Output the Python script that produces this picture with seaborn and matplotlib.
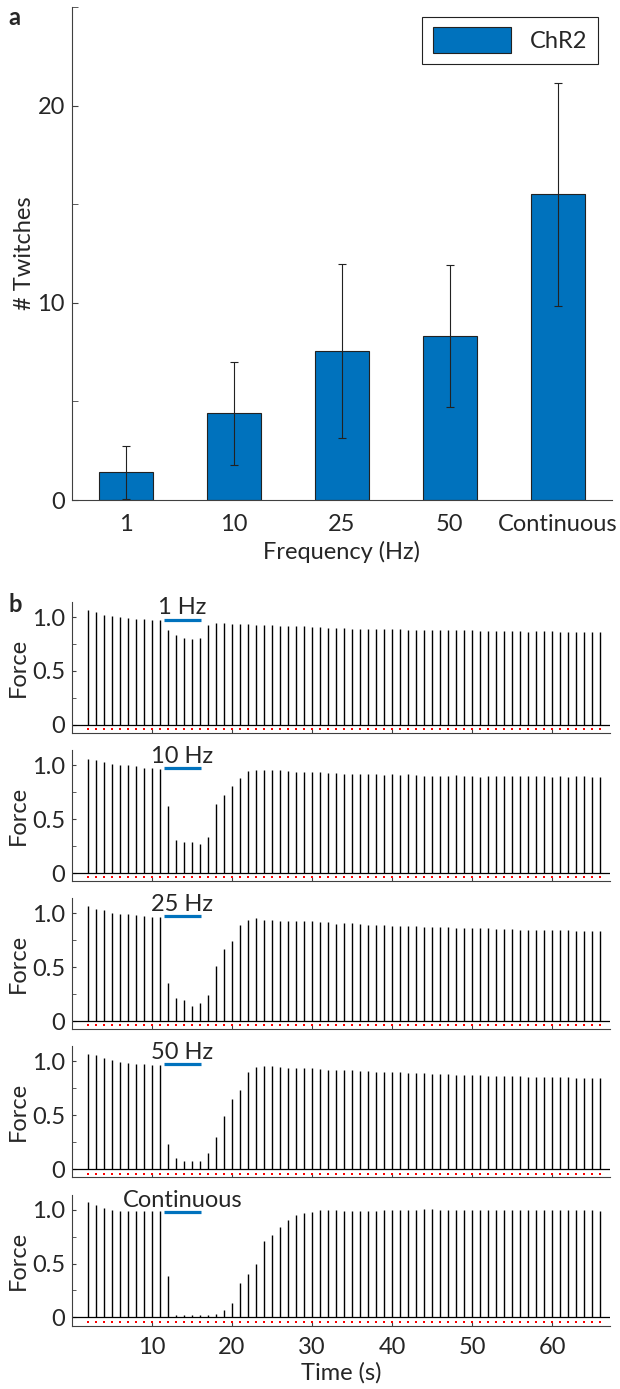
import numpy as np
import pandas as pd
import seaborn as sns
import matplotlib.pyplot as plt
from matplotlib.ticker import MultipleLocator

sns.set_style('ticks')
plt.rcParams['font.family'] = ['Lato', 'DejaVu Sans']
plt.rcParams['font.size'] = 17

# panel a: twitch counts per stimulation frequency
frequencies = ['1', '10', '25', '50', 'Continuous']
twitch_mean = [1.4, 4.4, 7.55, 8.3, 15.5]
twitch_sd = [1.35, 2.6, 4.4, 3.6, 5.65]

# panel b: peak force of each twitch (1 Hz test pulses, t = 2..66 s)
stim_labels = ['1 Hz', '10 Hz', '25 Hz', '50 Hz', 'Continuous']
twitch_times = list(range(2, 67))
light_on, light_off = 11.5, 16.1

force_1hz = [1.062, 1.043, 1.022, 1.012, 1.0, 0.988, 0.985, 0.981, 0.972, 0.975,
             0.882, 0.836, 0.805, 0.796, 0.805,
             0.923, 0.944, 0.941, 0.932, 0.932, 0.932, 0.929, 0.923, 0.923, 0.920, 0.920, 0.916,
             0.913, 0.904, 0.904, 0.901, 0.898, 0.898, 0.892, 0.892, 0.892, 0.889,
             0.889, 0.885, 0.885, 0.882, 0.879, 0.879, 0.876, 0.876, 0.876, 0.876,
             0.876, 0.876, 0.873, 0.873, 0.867, 0.867, 0.867, 0.867, 0.864, 0.867,
             0.867, 0.867, 0.864, 0.864, 0.864, 0.864, 0.864, 0.861]
force_10hz = [1.059, 1.044, 1.028, 1.009, 1.0, 1.0, 0.991, 0.978, 0.978, 0.969,
              0.623, 0.305, 0.290, 0.290, 0.268,
              0.336, 0.642, 0.726, 0.81, 0.882, 0.944, 0.953, 0.953, 0.953, 0.953,
              0.944, 0.941, 0.941, 0.935, 0.935, 0.928,
              0.928, 0.922, 0.922, 0.919, 0.919, 0.916, 0.913, 0.916, 0.913, 0.919,
              0.910, 0.903, 0.903, 0.9, 0.903, 0.907, 0.897, 0.897, 0.894, 0.903,
              0.9, 0.897, 0.903, 0.9, 0.897, 0.9, 0.9, 0.894, 0.897, 0.894,
              0.897, 0.897, 0.894, 0.891]
force_25hz = [1.069, 1.044, 1.028, 1.006, 0.997, 0.991, 0.981, 0.975, 0.969, 0.965,
              0.352, 0.214, 0.195, 0.142, 0.170,
              0.242, 0.509, 0.667, 0.745, 0.896, 0.937, 0.953, 0.943, 0.937, 0.931,
              0.931, 0.928, 0.928, 0.925, 0.921, 0.918,
              0.899, 0.906, 0.906, 0.899, 0.896, 0.893, 0.890, 0.887, 0.884, 0.884,
              0.881, 0.877, 0.874, 0.874, 0.871, 0.868, 0.868, 0.865, 0.865, 0.862,
              0.858, 0.858, 0.855, 0.849, 0.849, 0.846, 0.846, 0.846, 0.843, 0.843,
              0.840, 0.840, 0.836, 0.836]
force_50hz = [1.072, 1.056, 1.034, 1.013, 0.994, 0.988, 0.981, 0.975, 0.972, 0.969,
              0.237, 0.103, 0.078, 0.078, 0.078,
              0.15, 0.30, 0.49, 0.65, 0.734, 0.90, 0.947, 0.956, 0.956, 0.947,
              0.944, 0.941, 0.938, 0.938, 0.931, 0.925,
              0.922, 0.922, 0.919, 0.916, 0.913, 0.906, 0.903, 0.903, 0.9, 0.897,
              0.894, 0.891, 0.888, 0.884, 0.881, 0.878, 0.878, 0.875, 0.872, 0.869,
              0.866, 0.866, 0.863, 0.863, 0.859, 0.859, 0.856, 0.853, 0.853, 0.853,
              0.85, 0.85, 0.847, 0.847]
force_cont = [1.072, 1.041, 1.016, 0.997, 0.988, 0.988, 0.988, 0.988, 0.988, 0.988,
              0.384, 0.025, 0.02, 0.02, 0.02,
              0.025, 0.03, 0.072, 0.134, 0.322, 0.406, 0.494, 0.706, 0.769, 0.838,
              0.90, 0.947,
              0.97, 0.98, 0.994, 0.994, 0.994, 0.99, 0.988, 0.988, 0.99, 0.99,
              1.0, 1.0, 1.0, 1.0, 1.0, 1.003, 1.003, 1.0, 1.0, 1.0,
              1.0, 1.0, 1.0, 1.0, 1.0, 1.0, 1.0, 1.0, 1.0, 1.0,
              1.0, 1.0, 1.0, 1.0, 0.994, 0.994, 0.994, 0.99]
force_traces = [force_1hz, force_10hz, force_25hz, force_50hz, force_cont]

bar_blue = '#0072BD'
spine_col = '#404040'

fig = plt.figure(figsize=(6.2, 13.89), dpi=100)

# ---- panel a ----
ax_a = fig.add_axes([0.116, 0.640, 0.871, 0.355])
sns.barplot(x=frequencies, y=twitch_mean, color=bar_blue, saturation=1, width=0.5,
            edgecolor='#222222', linewidth=0.8, errorbar=None, label='ChR2', ax=ax_a)
ax_a.errorbar(range(len(frequencies)), twitch_mean, yerr=twitch_sd, fmt='none',
              ecolor='#222222', elinewidth=0.8, capsize=3, capthick=0.8)
ax_a.set_xlim(-0.5, 4.5)
ax_a.set_ylim(0, 25)
ax_a.set_yticks([0, 10, 20])
ax_a.yaxis.set_minor_locator(MultipleLocator(5))
ax_a.tick_params(axis='y', which='both', direction='in', length=4, pad=5, color=spine_col)
ax_a.tick_params(axis='x', length=0, pad=10)
ax_a.set_xlabel('Frequency (Hz)', labelpad=4)
ax_a.set_ylabel('# Twitches', labelpad=2)
sns.despine(ax=ax_a)
for s in ['left', 'bottom']:
    ax_a.spines[s].set_color(spine_col)
    ax_a.spines[s].set_linewidth(0.8)
leg = ax_a.legend(loc='upper right', bbox_to_anchor=(0.974, 0.98), borderaxespad=0,
                  fancybox=False, framealpha=1, edgecolor='#222222',
                  handlelength=3.3, handleheight=1.3, handletextpad=0.8, borderpad=0.45)
leg.get_frame().set_linewidth(0.8)
fig.text(0.014, 0.996, 'a', fontweight='bold', va='top', ha='left', fontsize=17)

# ---- panel b ----
x_max = 67.25
for i, (label, peaks) in enumerate(zip(stim_labels, force_traces)):
    ax = fig.add_axes([0.116, 0.4723 - i * 0.10665, 0.868, 0.0943])
    ax.hlines(0, 0, x_max, color='black', lw=0.9)
    ax.vlines(twitch_times, 0, peaks, color='black', lw=1.0)
    ax.plot(twitch_times, [-0.04] * len(twitch_times), ls='none', marker='s',
            ms=2.0, mew=0, color='#ff0000')
    ax.hlines(0.975, light_on, light_off, color=bar_blue, lw=2.3)
    ax.text((light_on + light_off) / 2, 1.025, label, ha='center', va='baseline')
    ax.set_xlim(0, x_max)
    ax.set_ylim(-0.075, 1.14)
    ax.set_yticks([0, 0.5, 1.0])
    ax.set_yticklabels(['0', '0.5', '1.0'])
    ax.yaxis.set_minor_locator(MultipleLocator(0.25))
    ax.set_xticks([10, 20, 30, 40, 50, 60])
    ax.tick_params(which='both', direction='in', length=3, pad=5, color=spine_col)
    ax.set_ylabel('Force', labelpad=2)
    sns.despine(ax=ax)
    for s in ['left', 'bottom']:
        ax.spines[s].set_color(spine_col)
        ax.spines[s].set_linewidth(0.8)
    if i < len(stim_labels) - 1:
        ax.set_xticklabels([])
    else:
        ax.tick_params(axis='x', pad=8)
        ax.set_xlabel('Time (s)', labelpad=3)
fig.text(0.014, 0.573, 'b', fontweight='bold', va='top', ha='left', fontsize=17)

fig.savefig('out.png', dpi=100)
